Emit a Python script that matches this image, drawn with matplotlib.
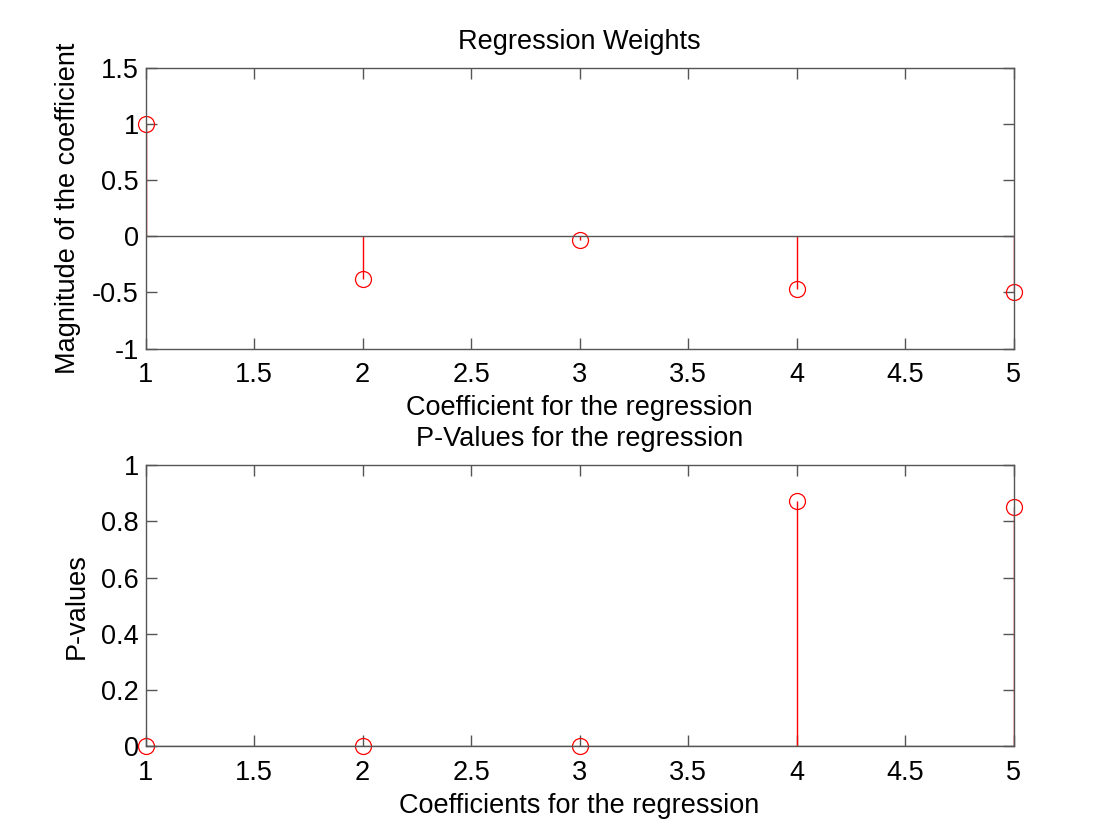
import matplotlib
matplotlib.use("Agg")
import matplotlib.pyplot as plt

coef_idx = [1, 2, 3, 4, 5]
weights = [1.0, -0.38, -0.034, -0.47, -0.50]
pvalues = [0.0, 0.0, 0.0, 0.873, 0.851]

top_yticks = [-1, -0.5, 0, 0.5, 1, 1.5]
bot_yticks = [0, 0.2, 0.4, 0.6, 0.8, 1]
xticks = [1, 1.5, 2, 2.5, 3, 3.5, 4, 4.5, 5]

plt.rcParams['font.family'] = ['Liberation Sans', 'DejaVu Sans']
FS = 19.5
plt.rcParams['font.size'] = FS

fig = plt.figure(figsize=(11.2, 8.4), dpi=100)
ax_color = '#555555'

def style(ax):
    for s in ax.spines.values():
        s.set_color(ax_color)
        s.set_linewidth(1.0)
    ax.tick_params(direction='in', length=8, width=1.0, color=ax_color,
                   top=True, right=True, labelsize=FS)
    ax.tick_params(axis='x', pad=10)
    ax.tick_params(axis='y', pad=5)
    ax.set_xticks(xticks)
    ax.set_xticklabels([f"{t:g}" for t in xticks])

def stem(ax, x, y):
    ml, sl, bl = ax.stem(x, y, linefmt='r-', markerfmt='ro', basefmt='-')
    ml.set_markerfacecolor('none')
    ml.set_markeredgecolor('#ff0000')
    ml.set_markersize(11.5)
    ml.set_markeredgewidth(0.9)
    ml.set_clip_on(False)
    sl.set_color('#ff0000')
    sl.set_linewidth(1.0)
    bl.set_color(ax_color)
    bl.set_linewidth(1.0)
    bl.set_xdata([0, 6])

ax1 = fig.add_axes([0.130, 0.585, 0.775, 0.334])
stem(ax1, coef_idx, weights)
ax1.set_xlim(1, 5)
ax1.set_ylim(-1, 1.5)
ax1.set_yticks(top_yticks)
ax1.set_yticklabels([f"{t:g}" for t in top_yticks])
style(ax1)
ax1.set_title('Regression Weights', fontsize=FS, pad=14)
ax1.set_xlabel('Coefficient for the regression', fontsize=FS, labelpad=5)
ax1.set_ylabel('Magnitude of the coefficient', fontsize=FS, labelpad=8)

ax2 = fig.add_axes([0.130, 0.112, 0.775, 0.334])
stem(ax2, coef_idx, pvalues)
ax2.set_xlim(1, 5)
ax2.set_ylim(0, 1)
ax2.set_yticks(bot_yticks)
ax2.set_yticklabels([f"{t:g}" for t in bot_yticks])
style(ax2)
ax2.set_title('P-Values for the regression', fontsize=FS, pad=14)
ax2.set_xlabel('Coefficients for the regression', fontsize=FS, labelpad=5)
ax2.set_ylabel('P-values', fontsize=FS, labelpad=8)

fig.savefig('out.png', dpi=100, facecolor='white')
